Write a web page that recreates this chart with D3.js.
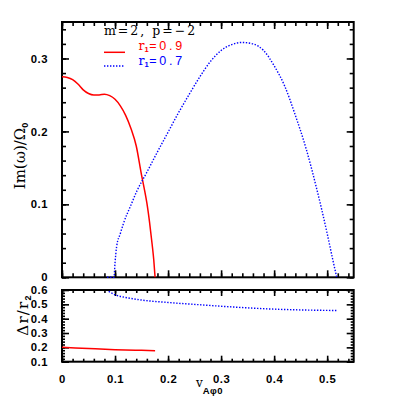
<!DOCTYPE html>
<html><head><meta charset="utf-8">
<script src="https://cdn.jsdelivr.net/npm/d3@7"></script>
<style>
html,body{margin:0;padding:0;background:#fff;}
svg{display:block;}
.tl{font-family:"Liberation Sans",Arial,sans-serif;font-size:11.3px;font-weight:bold;letter-spacing:0.5px;}
</style></head>
<body>
<script>
// ---- data ----
const redTopX = [0,0.01,0.02,0.03,0.04,0.05,0.06,0.07,0.08,0.09,0.10,0.11,0.12,0.13,0.14,0.15,0.155,0.16,0.165,0.17,0.173,0.1755];
const redTopY = [0.275,0.274,0.271,0.265,0.257,0.252,0.250,0.250,0.251,0.249,0.244,0.235,0.222,0.204,0.180,0.140,0.122,0.102,0.076,0.045,0.024,0.0];
const blueTopX = [0.085,0.098,0.100,0.103,0.110,0.116,0.130,0.141,0.160,0.180,0.200,0.220,0.240,0.260,0.280,0.300,0.320,0.340,0.360,0.380,0.400,0.420,0.440,0.460,0.480,0.490,0.500,0.510,0.518];
const blueTopY = [0,0,0.020,0.042,0.060,0.074,0.099,0.118,0.144,0.172,0.199,0.226,0.251,0.275,0.296,0.311,0.319,0.322,0.320,0.311,0.290,0.262,0.222,0.177,0.122,0.092,0.060,0.026,0];
const redBotX = [0,0.05,0.10,0.15,0.1755];
const redBotY = [0.200,0.192,0.184,0.179,0.177];
const blueBotX = [0.088,0.100,0.120,0.150,0.200,0.260,0.320,0.390,0.450,0.518];
const blueBotY = [0.590,0.567,0.548,0.530,0.513,0.497,0.482,0.468,0.461,0.457];
const xTicks = [0,0.1,0.2,0.3,0.4,0.5];
const yTopTicks = [0,0.1,0.2,0.3];
const yBotTicks = [0.1,0.2,0.3,0.4,0.5,0.6];
const legendLabels = ["0.9","0.7"];

const W=399,H=399;
const svg=d3.select("body").append("svg").attr("width",W).attr("height",H);
const L=62,R=353.7,T1=22,B1=277.3,T2=290,B2=361.7;
const x=d3.scaleLinear().domain([0,0.55]).range([L,R]);
const yT=d3.scaleLinear().domain([0,0.35]).range([B1,T1]);
const yB=d3.scaleLinear().domain([0.1,0.6]).range([B2,T2]);

const fmt=d=>d===0?"0":d3.format(".1f")(d);
const minor=(a,b,s)=>d3.range(Math.round(a/s),Math.round(b/s)+1).map(i=>+(i*s).toFixed(4));

function ticks(axisFn,scale,vals,size,translate,labels){
  const ax=axisFn(scale).tickValues(vals).tickSize(size).tickSizeOuter(0);
  if(labels) ax.tickFormat(fmt).tickPadding(-size+7); else ax.tickFormat("");
  const g=svg.append("g").attr("transform",translate).call(ax);
  g.select(".domain").remove();
  g.selectAll(".tick line").attr("stroke","#000").attr("stroke-width",1.6);
  g.selectAll("text").attr("class","tl").attr("fill","#000");
  return g;
}
// top panel
ticks(d3.axisBottom,x,minor(0,0.54,0.02),-4,`translate(0,${B1})`,false);
ticks(d3.axisBottom,x,xTicks,-7,`translate(0,${B1})`,false);
ticks(d3.axisTop,x,minor(0,0.54,0.02),-4,`translate(0,${T1})`,false);
ticks(d3.axisTop,x,xTicks,-7,`translate(0,${T1})`,false);
ticks(d3.axisLeft,yT,minor(0,0.34,0.02),-4,`translate(${L},0)`,false);
ticks(d3.axisLeft,yT,yTopTicks,-7,`translate(${L},0)`,true);
ticks(d3.axisRight,yT,minor(0,0.34,0.02),-4,`translate(${R},0)`,false);
ticks(d3.axisRight,yT,yTopTicks,-7,`translate(${R},0)`,false);
// bottom panel
ticks(d3.axisBottom,x,minor(0,0.54,0.02),-3,`translate(0,${B2})`,false);
ticks(d3.axisBottom,x,xTicks,-6,`translate(0,${B2})`,true);
ticks(d3.axisTop,x,minor(0,0.54,0.02),-3,`translate(0,${T2})`,false);
ticks(d3.axisTop,x,xTicks,-6,`translate(0,${T2})`,false);
ticks(d3.axisLeft,yB,minor(0.1,0.6,0.02),-3,`translate(${L},0)`,false);
ticks(d3.axisLeft,yB,yBotTicks,-7,`translate(${L},0)`,true);
ticks(d3.axisRight,yB,minor(0.1,0.6,0.02),-3,`translate(${R},0)`,false);
ticks(d3.axisRight,yB,yBotTicks,-7,`translate(${R},0)`,false);

// frames
svg.append("rect").attr("x",L).attr("y",T1).attr("width",R-L).attr("height",B1-T1).attr("fill","none").attr("stroke","#000").attr("stroke-width",2);
svg.append("rect").attr("x",L).attr("y",T2).attr("width",R-L).attr("height",B2-T2).attr("fill","none").attr("stroke","#000").attr("stroke-width",2);

// curves
function curve(xs,ys,ys_scale,color,dotted){
  const pts=xs.map((v,i)=>[v,ys[i]]);
  const line=d3.line().x(d=>x(d[0])).y(d=>ys_scale(d[1])).curve(d3.curveMonotoneX);
  const p=svg.append("path").datum(pts).attr("d",line).attr("fill","none").attr("stroke",color)
    .attr("stroke-width",dotted?1.4:1.5);
  if(dotted) p.attr("stroke-dasharray","1.4,1.6");
}
curve(redTopX,redTopY,yT,"#ff0000",false);
curve(blueTopX,blueTopY,yT,"#0000ff",true);
curve(redBotX,redBotY,yB,"#ff0000",false);
curve(blueBotX,blueBotY,yB,"#0000ff",true);

// legend
svg.append("text").attr("x",104).attr("y",35).attr("font-family","DejaVu Serif,serif").attr("font-size",12.5)
  .attr("letter-spacing",2).text("m=2, p=\u22122");
const legCols=["#ff0000","#0000ff"];
[0,1].forEach(i=>{
  const ly=52.3+i*13.7;
  const ty=[49.5,65][i];
  const l=svg.append("line").attr("x1",104).attr("x2",125).attr("y1",ly).attr("y2",ly).attr("stroke",legCols[i]).attr("stroke-width",1.5);
  if(i===1) l.attr("stroke-dasharray","1.4,1.6").attr("stroke-width",1.4);
  const t=svg.append("text").attr("x",138.5).attr("y",ty).attr("fill",legCols[i]).attr("font-size",12.5);
  t.append("tspan").attr("font-family","DejaVu Serif,serif").text("r");
  t.append("tspan").attr("font-family","Liberation Sans,sans-serif").attr("font-size",7.5).attr("font-weight","bold").attr("dy",2.2).text("1");
  t.append("tspan").attr("font-family","Liberation Sans,sans-serif").attr("dy",-2.2).attr("dx",0.5).attr("letter-spacing",2.8).text("="+legendLabels[i]);
});

// axis labels
const yl=svg.append("text").attr("transform","translate(25,156) rotate(-90)").attr("text-anchor","middle")
  .attr("font-family","DejaVu Serif,serif").attr("font-size",15);
yl.append("tspan").text("Im(\u03c9)/\u03a9");
yl.append("tspan").attr("font-family","Liberation Sans,sans-serif").attr("font-size",9).attr("font-weight","bold").attr("dy",3).text("0");

const yl2=svg.append("text").attr("transform","translate(28,315) rotate(-90)").attr("text-anchor","middle")
  .attr("font-family","DejaVu Serif,serif").attr("font-size",15).attr("letter-spacing",1.2);
yl2.append("tspan").text("\u0394r/r");
yl2.append("tspan").attr("font-family","Liberation Sans,sans-serif").attr("font-size",9).attr("font-weight","bold").attr("dy",3).text("2");

const xl=svg.append("text").attr("x",196).attr("y",387).attr("font-family","DejaVu Serif,serif").attr("font-size",12);
xl.append("tspan").text("v");
xl.append("tspan").attr("font-family","Liberation Sans,sans-serif").attr("font-size",9.5).attr("font-weight","bold").attr("dy",7).attr("letter-spacing",0.4).text("A\u03c60");
</script>
</body></html>
